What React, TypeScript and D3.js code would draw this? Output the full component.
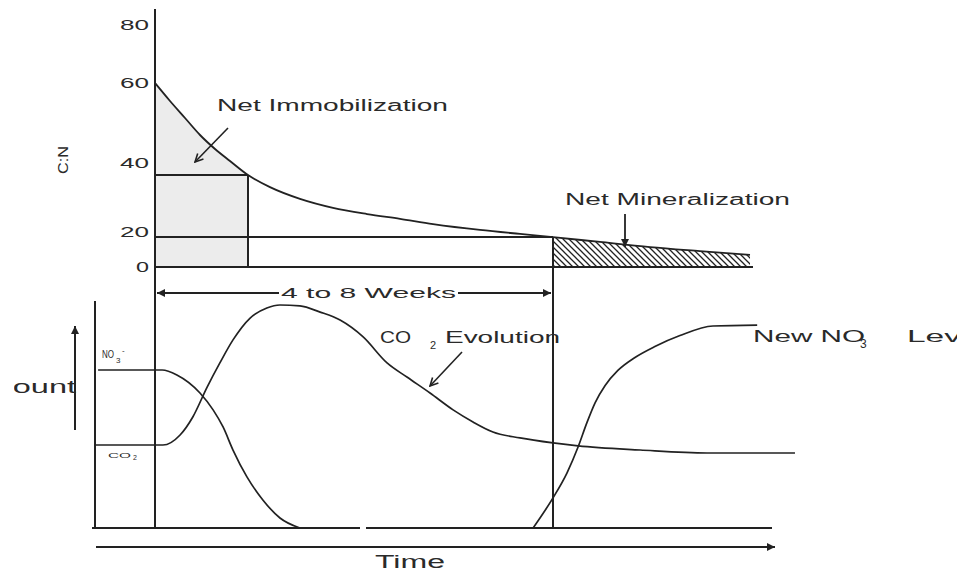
import React from "react";
import * as d3 from "d3";

// ---------------- data ----------------
// top panel: C:N ratio over time (time in arbitrary units, 100 = end of 4-8 weeks)
const cnTicks = [0, 20, 40, 60, 80];
const cnTime = [0, 3.77, 7.54, 11.31, 15.08, 18.84, 23.37, 28.89, 36.43, 44.72, 53.27, 61.56, 69.85, 81.66, 91.71, 100, 111.8, 124.4, 136.9, 149.5];
const cnRatio = [60, 55.5, 51.25, 47, 43.5, 40.5, 36.5, 33.0, 29.6, 27.0, 25.2, 23.8, 22.3, 20.6, 18.9, 17.1, 14.3, 11.4, 9.1, 6.9];
const immobilizationEnd = 23.37;
const immobilizationRatio = 36.5;
const mineralizationStart = 100;
const mineralizationRatio = 17.1;

// bottom panel: amounts over time
const no3Time = [-14.3, 1.8, 5.5, 11.3, 14.6, 17.1, 19.6, 23.1, 27.1, 31.4, 36.4];
const no3Amount = [69.3, 69.3, 67.1, 59.2, 51.8, 44.3, 34.2, 22.4, 12.3, 4.4, 0];

const co2Time = [-15.1, 2.0, 6.3, 9.5, 13.1, 16.3, 19.6, 23.9, 28.1, 31.4, 36.4, 41.5, 46.5, 52.3, 58.3, 63.3, 69.1, 74.9, 79.9, 84.9, 91.7, 100, 106.3, 121.9, 138.7, 160.8];
const co2Amount = [36.4, 36.4, 40.8, 48.7, 61.8, 72.4, 82.5, 92.1, 96.5, 97.8, 97.4, 94.7, 91.2, 83.8, 72.4, 66.2, 59.2, 51.8, 46.5, 42.1, 39.5, 37.3, 36.0, 34.2, 32.9, 32.9];

const newNo3Time = [95.0, 100, 103.5, 106.3, 108.5, 110.6, 113.1, 116.3, 120.6, 125.6, 131.9, 140.2, 151.3];
const newNo3Amount = [0, 13.2, 24.1, 35.5, 46.1, 55.0, 62.5, 69.1, 74.8, 79.6, 84.4, 88.6, 89.0];

type P = [number, number];
const zip = (a: number[], b: number[]): P[] => a.map((v, i) => [v, b[i]]);

export default function App() {
  const W = 959, H = 575;
  const ink = "#222";
  const txt = "#2a2a2a";
  const font = "'Liberation Sans', Arial, sans-serif";

  const x = d3.scaleLinear().domain([0, 100]).range([155, 553]);
  const yTop = d3.scaleLinear().domain(cnTicks).range([267, 232, 163, 83, 25]);
  const yBot = d3.scaleLinear().domain([0, 100]).range([528, 300]);

  const cn = zip(cnTime, cnRatio);
  const lineTop = d3.line<P>().x(d => x(d[0])).y(d => yTop(d[1])).curve(d3.curveMonotoneX);
  const areaTop = d3.area<P>().x(d => x(d[0])).y0(yTop(0)).y1(d => yTop(d[1])).curve(d3.curveMonotoneX);
  const lineBot = d3.line<P>().x(d => x(d[0])).y(d => yBot(d[1])).curve(d3.curveMonotoneX);

  const immobPts = cn.filter(d => d[0] <= immobilizationEnd + 1e-6);
  const minerPts = cn.filter(d => d[0] >= mineralizationStart - 1e-6);

  const x0 = x(0);
  const xImm = x(immobilizationEnd);
  const xMin = x(mineralizationStart);
  const base0 = yTop(0);
  const baseB = yBot(0);

  return (
    <svg width={W} height={H} style={{ position: "absolute", left: 0, top: 0, background: "#fff" }} fontFamily={font}>
      <defs>
        <pattern id="hatch" patternUnits="userSpaceOnUse" width="6" height="6">
          <path d="M-1,-1 L7,7 M-1,5 L1,7 M5,-1 L7,1" stroke={ink} strokeWidth="1.3" />
        </pattern>
        <marker id="tri" viewBox="0 0 10 10" refX="10" refY="5" markerWidth="11" markerHeight="8" markerUnits="userSpaceOnUse" orient="auto-start-reverse">
          <path d="M0,0 L10,5 L0,10 z" fill={ink} />
        </marker>
        <marker id="vee" viewBox="0 0 10 10" refX="9" refY="5" markerWidth="10" markerHeight="10" markerUnits="userSpaceOnUse" orient="auto">
          <path d="M1,1 L9,5 L1,9" fill="none" stroke={ink} strokeWidth="1.6" />
        </marker>
        <clipPath id="clipAmount"><rect x="14" y="360" width="80" height="50" /></clipPath>
        <clipPath id="clipRight"><rect x="0" y="0" width="957" height={H} /></clipPath>
      </defs>

      {/* ---------- top panel ---------- */}
      <path d={areaTop(immobPts) || ""} fill="#ececec" />
      <path d={areaTop(minerPts) || ""} fill="url(#hatch)" />

      {/* main vertical axis */}
      <line x1={x0} x2={x0} y1={9} y2={baseB} stroke={ink} strokeWidth={2} />
      {/* C:N baseline */}
      <line x1={x0} x2={753} y1={base0} y2={base0} stroke={ink} strokeWidth={2} />
      {/* immobilization box */}
      <line x1={x0} x2={xImm} y1={yTop(immobilizationRatio)} y2={yTop(immobilizationRatio)} stroke={ink} strokeWidth={2} />
      <line x1={xImm} x2={xImm} y1={yTop(immobilizationRatio)} y2={base0} stroke={ink} strokeWidth={2} />
      {/* mineralization threshold */}
      <line x1={x0} x2={xMin} y1={yTop(mineralizationRatio)} y2={yTop(mineralizationRatio)} stroke={ink} strokeWidth={2} />
      <line x1={xMin} x2={xMin} y1={yTop(mineralizationRatio)} y2={baseB} stroke={ink} strokeWidth={2} />
      {/* C:N curve */}
      <path d={lineTop(cn) || ""} fill="none" stroke={ink} strokeWidth={1.8} />

      {cnTicks.map(t => (
        <text key={t} x={149} y={yTop(t)} dy="0.36em" textAnchor="end" fontSize={14} fill={txt}
          textLength={t === 0 ? 13 : 29} lengthAdjust="spacingAndGlyphs">{t}</text>
      ))}
      <text transform="translate(68,160) rotate(-90)" textAnchor="middle" fontSize={15} fill={txt}
        textLength={28} lengthAdjust="spacingAndGlyphs">C:N</text>

      <text x={217} y={111} fontSize={16} fill={txt} textLength={231} lengthAdjust="spacingAndGlyphs">Net Immobilization</text>
      <line x1={228} y1={128} x2={195} y2={162} stroke={ink} strokeWidth={1.6} markerEnd="url(#vee)" />

      <text x={565} y={205} fontSize={16} fill={txt} textLength={225} lengthAdjust="spacingAndGlyphs">Net Mineralization</text>
      <line x1={625} y1={214} x2={625} y2={247} stroke={ink} strokeWidth={1.8} markerEnd="url(#tri)" />

      {/* ---------- bottom panel ---------- */}
      {/* 4 to 8 weeks span */}
      <line x1={x0 + 2} x2={279} y1={293} y2={293} stroke={ink} strokeWidth={1.8} markerStart="url(#tri)" />
      <line x1={458} x2={xMin - 2} y1={293} y2={293} stroke={ink} strokeWidth={1.8} markerEnd="url(#tri)" />
      <text x={281} y={298} fontSize={15} fill={txt} textLength={175} lengthAdjust="spacingAndGlyphs">4 to 8 Weeks</text>

      {/* left amount axis and baseline */}
      <line x1={95} x2={95} y1={301} y2={baseB} stroke={ink} strokeWidth={2} />
      <line x1={92} x2={360} y1={baseB} y2={baseB} stroke={ink} strokeWidth={2} />
      <line x1={366} x2={772} y1={baseB} y2={baseB} stroke={ink} strokeWidth={2} />
      {/* time arrow */}
      <line x1={96} x2={775} y1={547} y2={547} stroke={ink} strokeWidth={2} markerEnd="url(#tri)" />
      <text x={375} y={568} fontSize={18} fill={txt} textLength={70} lengthAdjust="spacingAndGlyphs">Time</text>

      {/* amount label and arrow */}
      <line x1={75} x2={75} y1={430} y2={326} stroke={ink} strokeWidth={2} markerEnd="url(#tri)" />
      <g clipPath="url(#clipAmount)">
        <text x={-36} y={393} fontSize={18} fill={txt} textLength={112} lengthAdjust="spacingAndGlyphs">Amount</text>
      </g>

      {/* curves */}
      <path d={lineBot(zip(no3Time, no3Amount)) || ""} fill="none" stroke={ink} strokeWidth={1.7} />
      <path d={lineBot(zip(co2Time, co2Amount)) || ""} fill="none" stroke={ink} strokeWidth={1.7} />
      <path d={lineBot(zip(newNo3Time, newNo3Amount)) || ""} fill="none" stroke={ink} strokeWidth={1.7} />

      {/* small series labels */}
      <text x={102} y={358} fontSize={10} fill={txt} textLength={12} lengthAdjust="spacingAndGlyphs">NO</text>
      <text x={116} y={363} fontSize={8} fill={txt}>3</text>
      <text x={122} y={353} fontSize={8} fill={txt}>-</text>
      <text x={108} y={458} fontSize={8} fill={txt} textLength={23} lengthAdjust="spacingAndGlyphs">CO</text>
      <text x={133} y={460} fontSize={7} fill={txt}>2</text>

      {/* CO2 evolution label */}
      <text x={380} y={343} fontSize={16} fill={txt} textLength={31} lengthAdjust="spacingAndGlyphs">CO</text>
      <text x={430} y={349} fontSize={11} fill={txt}>2</text>
      <text x={445} y={343} fontSize={16} fill={txt} textLength={115} lengthAdjust="spacingAndGlyphs">Evolution</text>
      <line x1={462} y1={352} x2={430} y2={386} stroke={ink} strokeWidth={1.6} markerEnd="url(#vee)" />

      {/* new NO3 level label */}
      <g clipPath="url(#clipRight)">
        <text x={753} y={342} fontSize={17} fill={txt} textLength={112} lengthAdjust="spacingAndGlyphs">New NO</text>
        <text x={860} y={348} fontSize={12} fill={txt}>3</text>
        <text x={907} y={342} fontSize={17} fill={txt} textLength={80} lengthAdjust="spacingAndGlyphs">Level</text>
      </g>
    </svg>
  );
}
